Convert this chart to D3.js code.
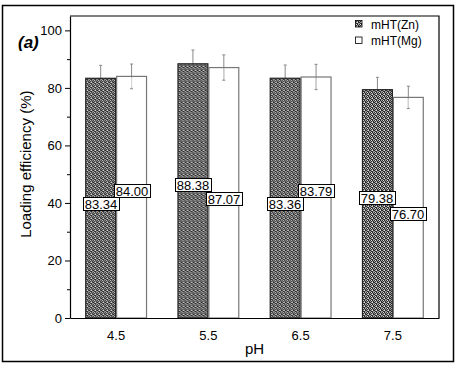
<!DOCTYPE html>
<html lang="en">
<head>
<meta charset="UTF-8">
<title>Loading efficiency vs pH</title>
<script src="https://d3js.org/d3.v7.min.js"></script>
<style>
  body { margin: 0; background: #fff; }
  svg { display: block; font-family: "Liberation Sans", Arial, sans-serif; }
  .axis path, .axis line { stroke: #000; }
  .axis text { fill: #000; font-size: 13px; }
</style>
</head>
<body>
<svg width="464" height="369"></svg>
<script>
// data
const categories = ['4.5', '5.5', '6.5', '7.5'];
const seriesNames = ['mHT(Zn)', 'mHT(Mg)'];
const znValues = [83.34, 88.38, 83.36, 79.38];
const mgValues = [84.00, 87.07, 83.79, 76.70];
const znErrors = [4.5, 4.8, 4.6, 4.3];
const mgErrors = [4.3, 4.4, 4.4, 3.9];
const yTicks = [0, 20, 40, 60, 80, 100];

const svg = d3.select('svg');
const W = 464, H = 369;
const margin = { top: 16, right: 25, bottom: 51, left: 70 };
const plotW = W - margin.left - margin.right;
const plotH = H - margin.top - margin.bottom;

// dithered texture for the Zn bars
const defs = svg.append('defs');
const pat = defs.append('pattern')
  .attr('id', 'hatch')
  .attr('patternUnits', 'userSpaceOnUse')
  .attr('width', 4).attr('height', 4);
pat.append('rect').attr('width', 4).attr('height', 4).attr('fill', '#9c9c9c');
const dark = [[0, 0], [2, 0], [1, 1], [3, 1], [0, 2], [3, 2], [1, 3], [2, 3]];
const light = [[1, 0], [2, 2]];
dark.forEach(p => pat.append('rect').attr('x', p[0]).attr('y', p[1]).attr('width', 1).attr('height', 1).attr('fill', '#2b2b2b'));
light.forEach(p => pat.append('rect').attr('x', p[0]).attr('y', p[1]).attr('width', 1).attr('height', 1).attr('fill', '#e6e6e6'));

// outer frame
svg.append('rect')
  .attr('x', 2.5).attr('y', 5.5).attr('width', 451).attr('height', 356)
  .attr('fill', 'none').attr('stroke', '#000').attr('stroke-width', 1.5);

const g = svg.append('g').attr('transform', `translate(${margin.left},${margin.top})`);

const x0 = d3.scaleBand().domain(categories).range([0, plotW]).paddingInner(0.33).paddingOuter(0.165);
const x1 = d3.scaleBand().domain(seriesNames).range([0, x0.bandwidth()]);
const y = d3.scaleLinear().domain([0, 105]).range([plotH, 0]);

const rows = categories.map((c, i) => ({
  cat: c,
  bars: [
    { key: seriesNames[0], value: znValues[i], err: znErrors[i], other: mgValues[i] },
    { key: seriesNames[1], value: mgValues[i], err: mgErrors[i], other: znValues[i] }
  ]
}));

const groups = g.selectAll('.grp').data(rows).enter().append('g')
  .attr('class', 'grp')
  .attr('transform', d => `translate(${x0(d.cat)},0)`);

// error bars (drawn behind bars)
groups.selectAll('.err').data(d => d.bars).enter().append('g').each(function (d) {
  const cx = x1(d.key) + x1.bandwidth() / 2;
  const e = d3.select(this);
  const col = '#8a8a8a';
  e.append('line').attr('x1', cx).attr('x2', cx)
    .attr('y1', y(d.value - d.err)).attr('y2', y(d.value + d.err))
    .attr('stroke', col).attr('stroke-width', 1);
  [d.value - d.err, d.value + d.err].forEach(v => {
    e.append('line').attr('x1', cx - 1.5).attr('x2', cx + 1.5)
      .attr('y1', y(v)).attr('y2', y(v)).attr('stroke', col);
  });
});

// bars
groups.selectAll('.bar').data(d => d.bars).enter().append('rect')
  .attr('x', d => x1(d.key) + 0.5)
  .attr('y', d => y(d.value))
  .attr('width', x1.bandwidth() - 1)
  .attr('height', d => plotH - y(d.value))
  .attr('fill', d => d.key === seriesNames[0] ? 'url(#hatch)' : 'none')
  .attr('stroke', d => d.key === seriesNames[0] ? '#222' : '#777')
  .attr('stroke-width', 1.2);

// Mg error bar lower half is faintly visible through the white bar
groups.selectAll('.errIn').data(d => d.bars.filter(b => b.key === seriesNames[1])).enter().append('line')
  .attr('x1', d => x1(d.key) + x1.bandwidth() / 2)
  .attr('x2', d => x1(d.key) + x1.bandwidth() / 2)
  .attr('y1', d => y(d.value) + 1)
  .attr('y2', d => y(d.value - d.err) - 1)
  .attr('stroke', '#ddd');

// value labels in boxes, at half height, nudged up for the taller bar
const labels = svg.append('g').selectAll('g').data(rows.flatMap(r => r.bars.map(b => ({ ...b, cat: r.cat }))))
  .enter().append('g')
  .attr('transform', d => {
    const cx = margin.left + x0(d.cat) + x1(d.key) + x1.bandwidth() / 2;
    const cy = margin.top + y(d.value / 2 + (d.value >= d.other ? 2.2 : -2.2));
    return `translate(${Math.round(cx)},${Math.round(cy)})`;
  });
labels.each(function (d) {
  const lg = d3.select(this);
  const t = lg.append('text')
    .attr('text-anchor', 'middle').attr('y', 5)
    .attr('font-size', 13).attr('fill', '#000')
    .text(d.value.toFixed(2));
  const w = Math.round(t.node().getComputedTextLength() + 3);
  lg.insert('rect', 'text')
    .attr('x', -w / 2 + 0.5).attr('y', -6.5).attr('width', w).attr('height', 13)
    .attr('fill', '#fff').attr('stroke', '#000').attr('stroke-width', 1);
});

// axes
const yAxis = g.append('g').attr('class', 'axis')
  .call(d3.axisLeft(y).tickValues(yTicks).tickSize(5).tickSizeOuter(0).tickPadding(3));
yAxis.select('.domain').attr('stroke-width', 1.2);
g.append('g').attr('class', 'axis')
  .call(d3.axisLeft(y).tickValues(d3.range(10, 105, 20)).tickSize(3).tickFormat(''))
  .select('.domain').remove();

const xAxis = g.append('g').attr('class', 'axis')
  .attr('transform', `translate(0,${plotH})`)
  .call(d3.axisBottom(x0).tickSize(0).tickPadding(13));
xAxis.select('.domain').attr('stroke-width', 1.2);

// top and right frame of the plot
g.append('path')
  .attr('d', `M0,0H${plotW}V${plotH}`)
  .attr('fill', 'none').attr('stroke', '#000').attr('stroke-width', 1.2);

// axis titles
svg.append('text')
  .attr('transform', `translate(31,${margin.top + y(50) - 10}) rotate(-90)`)
  .attr('text-anchor', 'middle').attr('font-size', 15).attr('fill', '#000')
  .text('Loading efficiency (%)');
svg.append('text')
  .attr('x', margin.left + plotW / 2).attr('y', 354)
  .attr('text-anchor', 'middle').attr('font-size', 15).attr('fill', '#000')
  .text('pH');

svg.append('text')
  .attr('x', 18).attr('y', 48)
  .attr('font-size', 17).attr('font-weight', 'bold').attr('font-style', 'italic')
  .text('(a)');

// legend
const legend = svg.append('g').attr('transform', 'translate(355,20)');
seriesNames.forEach((s, i) => {
  const row = legend.append('g').attr('transform', `translate(0,${i * 16.5})`);
  row.append('rect').attr('x', 0.5).attr('y', 0.5).attr('width', 6.5).attr('height', 6.5)
    .attr('fill', i === 0 ? 'url(#hatch)' : '#fff').attr('stroke', '#000').attr('stroke-width', 0.8);
  row.append('text').attr('x', 16).attr('y', 8.5).attr('font-size', 12).text(s);
});
</script>
</body>
</html>
